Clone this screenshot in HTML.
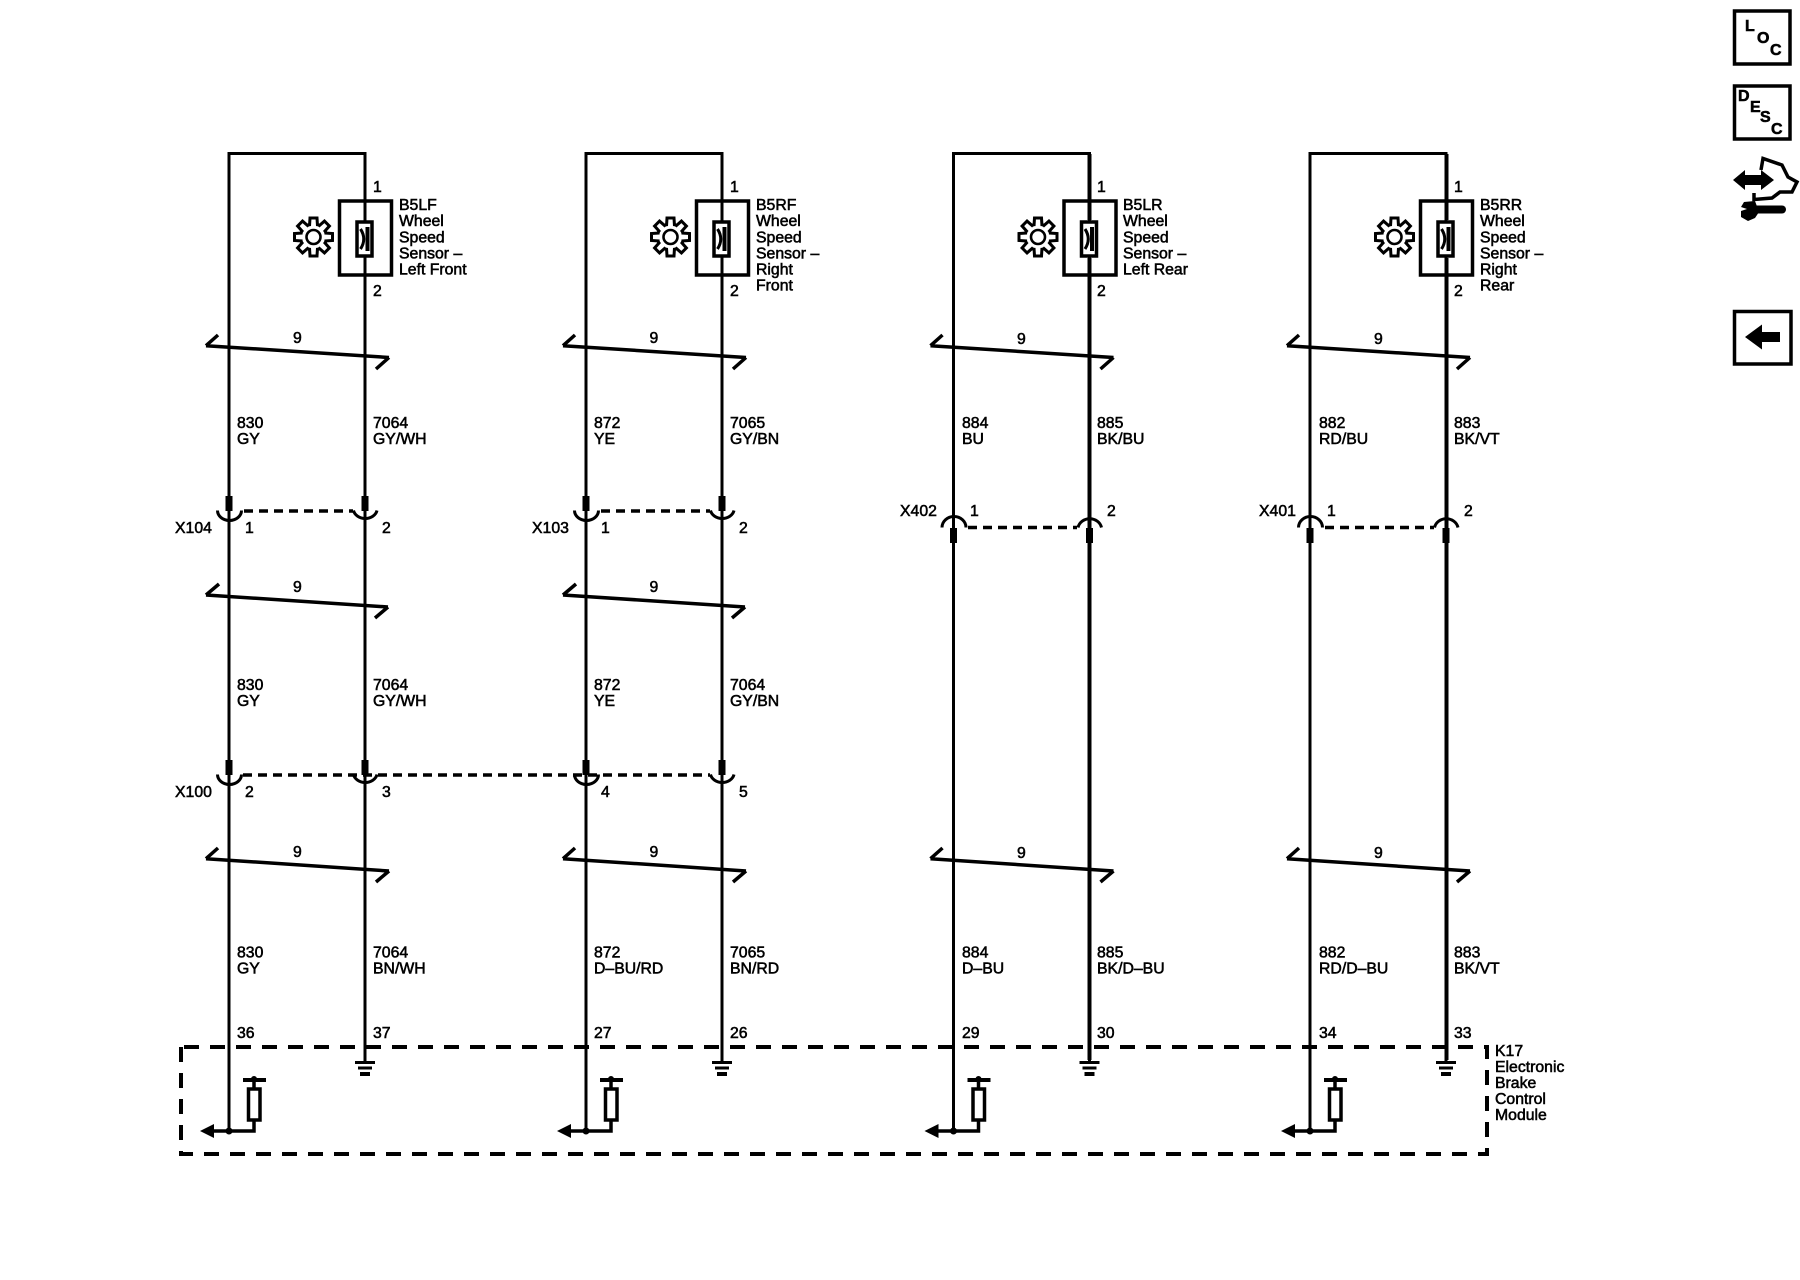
<!DOCTYPE html>
<html><head><meta charset="utf-8"><style>
html,body{margin:0;padding:0;background:#fff}
svg{display:block}
text{font-family:"Liberation Sans",sans-serif;font-size:15.8px;fill:#000;stroke:#000;stroke-width:.55}
.w{stroke:#000;stroke-width:3;fill:none}
.b{stroke:#000;stroke-width:3.5;fill:none}
</style></head><body>
<svg width="1800" height="1280" viewBox="0 0 1800 1280" xmlns="http://www.w3.org/2000/svg">
<defs>
<path id="tooth" d="M-4 -11L-3.5 -19H3.5L4 -11" fill="#fff" stroke="#000" stroke-width="3"/>
<g id="gear">
<circle cx="0" cy="0" r="13" fill="#fff" stroke="#000" stroke-width="3"/>
<use href="#tooth"/><use href="#tooth" transform="rotate(45)"/><use href="#tooth" transform="rotate(90)"/><use href="#tooth" transform="rotate(135)"/><use href="#tooth" transform="rotate(180)"/><use href="#tooth" transform="rotate(225)"/><use href="#tooth" transform="rotate(270)"/><use href="#tooth" transform="rotate(315)"/>
<circle cx="0" cy="0" r="7" fill="none" stroke="#000" stroke-width="2.6"/>
</g>
<g id="col">
<path class="w" d="M229 1131V153.5H365V1061"/>
<rect x="339.5" y="201" width="52" height="74" fill="none" stroke="#000" stroke-width="3.5"/>
<rect x="357" y="222" width="15" height="34" fill="#fff" stroke="#000" stroke-width="3.5"/>
<path d="M360.5 229Q367 239 360.5 249" stroke="#000" stroke-width="3" fill="none"/>
<path d="M367.5 227V251" stroke="#000" stroke-width="4"/>
<use href="#gear" x="313.5" y="237"/>
<path d="M206 345.7L389 357.5M206 345.7L218 335M389 357.5L376 369" class="b"/>
<path d="M206 858.7L389 871M206 858.7L218 848M389 871L376 882" class="b"/>
<path d="M355 1062.5H375M358 1068H372" stroke="#000" stroke-width="3"/>
<path d="M360 1074H370" stroke="#000" stroke-width="4"/>
<path d="M200 1131L214 1124V1138Z" fill="#000"/>
<path d="M212 1131H254V1120M254 1088V1080" class="b"/>
<circle cx="229" cy="1131" r="3.5" fill="#000"/>
<rect x="248.5" y="1089" width="11.5" height="31" fill="#fff" stroke="#000" stroke-width="3.5"/>
<path d="M243 1080H266" stroke="#000" stroke-width="4"/>
<circle cx="254" cy="1079" r="3" fill="#000"/>
</g>
<g id="upper">
<path d="M206 595L388 607M206 595L219 584M388 607L375 618" class="b"/>
<path d="M229 496V511M365 496V511" stroke="#000" stroke-width="7"/>
<path d="M229 760V775M365 760V775" stroke="#000" stroke-width="7"/>
<path d="M217.5 510.5A12 10 0 0 0 241.5 510.5M353.5 510.5A12 10 0 0 0 377 510.5" class="w"/>
<path d="M217.5 774.5A12 10 0 0 0 241.5 774.5M353.5 774.5A12 10 0 0 0 377 774.5" class="w"/>
</g>
<g id="lowerconn">
<path d="M229 528V543M365 528V543" stroke="#000" stroke-width="7"/>
<path d="M217.5 527.5A12 11 0 0 1 241.5 527.5M353.5 527.5A12 11 0 0 1 377 527.5" class="w"/>
</g>
</defs>
<rect width="1800" height="1280" fill="#fff"/>

<use href="#col"/>
<use href="#upper"/>
<use href="#col" x="357"/>
<use href="#upper" x="357"/>
<use href="#col" x="724.5"/>
<path d="M1089.5 154V220M1089.5 258V1060" stroke="#000" stroke-width="4"/>
<use href="#lowerconn" x="724.5"/>
<use href="#col" x="1081"/>
<path d="M1446.5 154V220M1446.5 258V1060" stroke="#000" stroke-width="4"/>
<use href="#lowerconn" x="1081"/>

<g stroke="#000" stroke-width="3.5" stroke-dasharray="9 6" fill="none">
<path d="M244 511H353"/>
<path d="M601 511H710"/>
<path d="M968 527.5H1077"/>
<path d="M1325 527.5H1434"/>
<path d="M243 775H710"/>
</g>
<rect x="181" y="1047" width="1306" height="107" fill="none" stroke="#000" stroke-width="4" stroke-dasharray="15 11" stroke-dashoffset="-3"/>

<text x="373" y="192">1</text><text x="373" y="296">2</text>
<text x="399" y="210">B5LF</text><text x="399" y="226">Wheel</text><text x="399" y="242.5">Speed</text><text x="399" y="258.5">Sensor –</text><text x="399" y="274.5">Left Front</text>
<text x="730" y="192">1</text><text x="730" y="296">2</text>
<text x="756" y="210">B5RF</text><text x="756" y="226">Wheel</text><text x="756" y="242.5">Speed</text><text x="756" y="258.5">Sensor –</text><text x="756" y="274.5">Right</text><text x="756" y="290.5">Front</text>
<text x="1097" y="192">1</text><text x="1097" y="296">2</text>
<text x="1123" y="210">B5LR</text><text x="1123" y="226">Wheel</text><text x="1123" y="242.5">Speed</text><text x="1123" y="258.5">Sensor –</text><text x="1123" y="274.5">Left Rear</text>
<text x="1454" y="192">1</text><text x="1454" y="296">2</text>
<text x="1480" y="210">B5RR</text><text x="1480" y="226">Wheel</text><text x="1480" y="242.5">Speed</text><text x="1480" y="258.5">Sensor –</text><text x="1480" y="274.5">Right</text><text x="1480" y="290.5">Rear</text>

<text x="293" y="343">9</text><text x="649.5" y="343">9</text><text x="1017" y="344">9</text><text x="1374" y="344">9</text>
<text x="293" y="592">9</text><text x="649.5" y="592">9</text>
<text x="293" y="857">9</text><text x="649.5" y="857">9</text><text x="1017" y="858">9</text><text x="1374" y="858">9</text>

<text x="237" y="428">830</text><text x="237" y="444">GY</text>
<text x="373" y="428">7064</text><text x="373" y="444">GY/WH</text>
<text x="594" y="428">872</text><text x="594" y="444">YE</text>
<text x="730" y="428">7065</text><text x="730" y="444">GY/BN</text>
<text x="962" y="428">884</text><text x="962" y="444">BU</text>
<text x="1097" y="428">885</text><text x="1097" y="444">BK/BU</text>
<text x="1319" y="428">882</text><text x="1319" y="444">RD/BU</text>
<text x="1454" y="428">883</text><text x="1454" y="444">BK/VT</text>

<text x="175" y="533">X104</text><text x="245" y="533">1</text><text x="382" y="533">2</text>
<text x="532" y="533">X103</text><text x="601" y="533">1</text><text x="739" y="533">2</text>
<text x="900" y="516">X402</text><text x="970" y="516">1</text><text x="1107" y="516">2</text>
<text x="1259" y="516">X401</text><text x="1327" y="516">1</text><text x="1464" y="516">2</text>

<text x="237" y="690">830</text><text x="237" y="706">GY</text>
<text x="373" y="690">7064</text><text x="373" y="706">GY/WH</text>
<text x="594" y="690">872</text><text x="594" y="706">YE</text>
<text x="730" y="690">7064</text><text x="730" y="706">GY/BN</text>

<text x="175" y="797">X100</text><text x="245" y="797">2</text><text x="382" y="797">3</text><text x="601" y="797">4</text><text x="739" y="797">5</text>

<text x="237" y="957.5">830</text><text x="237" y="973.5">GY</text>
<text x="373" y="957.5">7064</text><text x="373" y="973.5">BN/WH</text>
<text x="594" y="957.5">872</text><text x="594" y="973.5">D–BU/RD</text>
<text x="730" y="957.5">7065</text><text x="730" y="973.5">BN/RD</text>
<text x="962" y="957.5">884</text><text x="962" y="973.5">D–BU</text>
<text x="1097" y="957.5">885</text><text x="1097" y="973.5">BK/D–BU</text>
<text x="1319" y="957.5">882</text><text x="1319" y="973.5">RD/D–BU</text>
<text x="1454" y="957.5">883</text><text x="1454" y="973.5">BK/VT</text>

<text x="237" y="1038">36</text><text x="373" y="1038">37</text><text x="594" y="1038">27</text><text x="730" y="1038">26</text>
<text x="962" y="1038">29</text><text x="1097" y="1038">30</text><text x="1319" y="1038">34</text><text x="1454" y="1038">33</text>

<text x="1495" y="1056">K17</text><text x="1495" y="1072">Electronic</text><text x="1495" y="1088">Brake</text><text x="1495" y="1104">Control</text><text x="1495" y="1120">Module</text>

<rect x="1734.5" y="11" width="55.5" height="53" fill="none" stroke="#000" stroke-width="3.5"/>
<rect x="1734.5" y="86" width="55.5" height="53" fill="none" stroke="#000" stroke-width="3.5"/>
<rect x="1734.5" y="311.5" width="56.5" height="52.5" fill="none" stroke="#000" stroke-width="3.5"/>
<g>
<text x="1745" y="31" style="font-size:16px;font-weight:bold">L</text><text x="1757" y="43" style="font-size:16px;font-weight:bold">O</text><text x="1770" y="55" style="font-size:16px;font-weight:bold">C</text>
<text x="1738" y="101" style="font-size:16px;font-weight:bold">D</text><text x="1750" y="112" style="font-size:16px;font-weight:bold">E</text><text x="1760" y="122" style="font-size:16px;font-weight:bold">S</text><text x="1771" y="134" style="font-size:16px;font-weight:bold">C</text>
</g>
<path d="M1745 337L1762 324.5V332H1780V342H1762V349.5Z" fill="#000"/>
<path d="M1733 180L1745 170V175H1761V170L1774 180L1761 190V185H1745V190Z" fill="#000"/>
<path d="M1761 170L1763 158.5L1782 165L1788 177L1797 182L1792 192L1780 192L1772 198L1754 199.5V193" fill="none" stroke="#000" stroke-width="3.5"/>
<path d="M1752 209.5H1782" stroke="#000" stroke-width="8" stroke-linecap="round"/>
<path d="M1755 201L1744 202L1741 207L1747 209L1741 211L1741 217L1748 221L1755 218L1759 212Z" fill="#000"/>
</svg>
</body></html>
